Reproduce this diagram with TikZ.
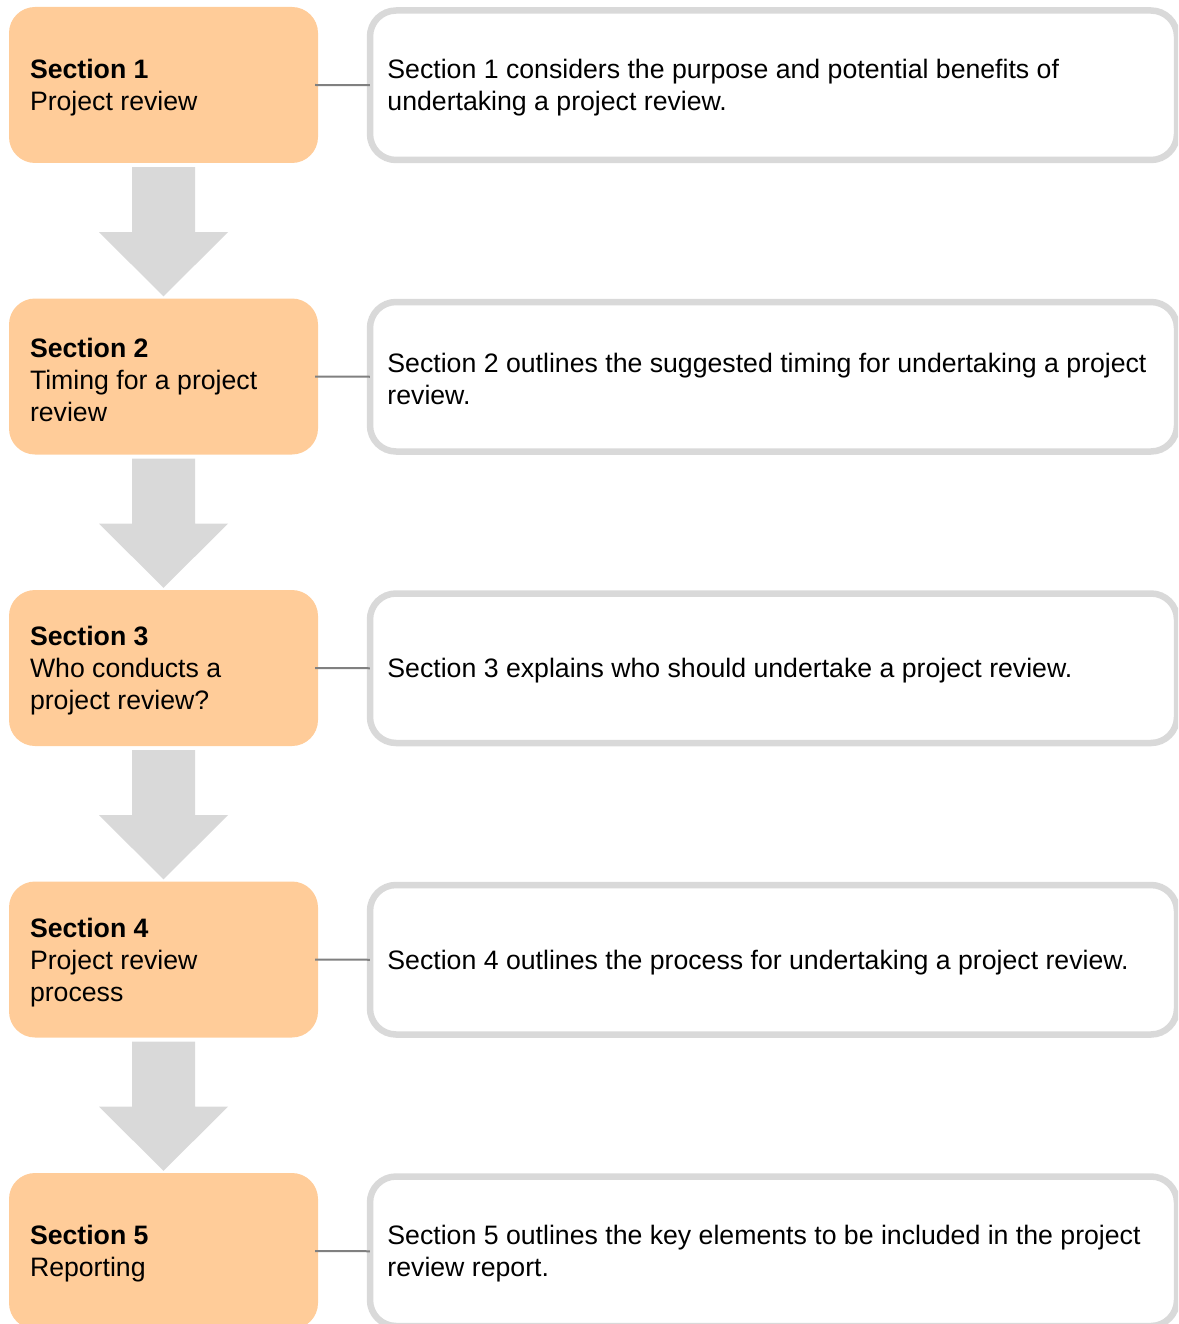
\documentclass[tikz,border=0pt]{standalone}
\usepackage{fontspec}
\setmainfont{Liberation Sans}
\usetikzlibrary{calc}
\definecolor{secfill}{HTML}{FFCC99}
\definecolor{boxgray}{HTML}{D9D9D9}
\definecolor{linkgray}{HTML}{808080}
\begin{document}
\begin{tikzpicture}[x=1pt,y=-1pt,
  secbox/.style={fill=secfill, rounded corners=26pt, minimum width=309pt, minimum height=156pt},
  sectext/.style={anchor=west, align=left, inner sep=0pt, font=\fontsize{26.67}{32}\selectfont},
  descbox/.style={draw=boxgray, line width=6.5pt, fill=white, rounded corners=26pt,
    minimum width=807pt, minimum height=149.5pt},
  desctext/.style={anchor=west, align=left, inner sep=0pt, font=\fontsize{26.67}{32}\selectfont},
  link/.style={draw=linkgray, line width=2pt},
  flow/.style={fill=boxgray}]
\useasboundingbox (0,0) rectangle (1178,1324);
\clip (0,0) rectangle (1178,1324);

% left section boxes
\node[secbox] (s1) at (163.5,85)    {};
\node[secbox] (s2) at (163.5,376.5) {};
\node[secbox] (s3) at (163.5,668)   {};
\node[secbox] (s4) at (163.5,959.5) {};
\node[secbox] (s5) at (163.5,1251)  {};

\node[sectext] (l1) at ($(s1.west)+(21,3)$) {\textbf{Section 1}\\Project review};
\node[sectext] (l2) at ($(s2.west)+(21,3)$) {\textbf{Section 2}\\Timing for a project\\review};
\node[sectext] (l3) at ($(s3.west)+(21,3)$) {\textbf{Section 3}\\Who conducts a\\project review?};
\node[sectext] (l4) at ($(s4.west)+(21,3)$) {\textbf{Section 4}\\Project review\\process};
\node[sectext] (l5) at ($(s5.west)+(21,3)$) {\textbf{Section 5}\\Reporting};

% right description boxes
\node[descbox] (r1) at (773.5,85.25)  {};
\node[descbox] (r2) at (773.5,376.75) {};
\node[descbox] (r3) at (773.5,668.25) {};
\node[descbox] (r4) at (773.5,959.75) {};
\node[descbox] (r5) at (773.5,1251.25) {};

\node[desctext] (t1) at ($(r1.west)+(20.5,2.5)$) {Section 1 considers the purpose and potential benefits of\\undertaking a project review.};
\node[desctext] (t2) at ($(r2.west)+(20.5,2.5)$) {Section 2 outlines the suggested timing for undertaking a project\\review.};
\node[desctext] (t3) at ($(r3.west)+(20.5,2.5)$) {Section 3 explains who should undertake a project review.};
\node[desctext] (t4) at ($(r4.west)+(20.5,2.5)$) {Section 4 outlines the process for undertaking a project review.};
\node[desctext] (t5) at ($(r5.west)+(20.5,2.5)$) {Section 5 outlines the key elements to be included in the project\\review report.};

% connectors
\foreach \i in {1,...,5} {
  \draw[link] ($(s\i.east)+(-3,0)$) -- ($(r\i.west)+(3,0)$);
}

% down arrows
\foreach \a/\b in {s1/s2,s2/s3,s3/s4,s4/s5} {
  \fill[flow] ($(\a.south)+(-31.5,4)$) -- ($(\a.south)+(31.5,4)$) -- ($(\a.south)+(31.5,69)$)
    -- ($(\a.south)+(64.5,69)$) -- ($(\b.north)+(0,-2)$) -- ($(\a.south)+(-64.5,69)$)
    -- ($(\a.south)+(-31.5,69)$) -- cycle;
}
\end{tikzpicture}
\end{document}
